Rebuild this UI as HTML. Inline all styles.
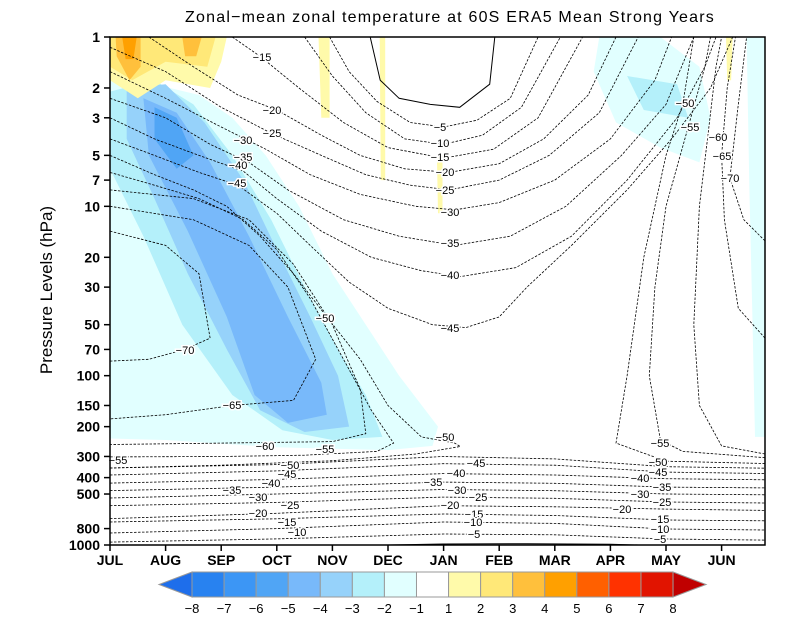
<!DOCTYPE html>
<html><head><meta charset="utf-8"><style>
html,body{margin:0;padding:0;background:#fff;}
svg{display:block;font-family:"Liberation Sans",sans-serif;}
</style></head><body>
<svg id="chart" width="800" height="618" viewBox="0 0 800 618" xmlns="http://www.w3.org/2000/svg">
<text x="450" y="22" font-size="16" text-anchor="middle" letter-spacing="1.2">Zonal−mean zonal temperature at 60S ERA5 Mean Strong Years</text>
<text transform="translate(52,290) rotate(-90)" font-size="17" text-anchor="middle">Pressure Levels (hPa)</text>
<g id="shade"></g>
<g id="contours"></g>
<g id="axes"></g>
<g id="cbar"></g>
</svg>
<script>
// ---- data ----
const monthLabels = ["JUL","AUG","SEP","OCT","NOV","DEC","JAN","FEB","MAR","APR","MAY","JUN"];
const pressureTicks = [1,2,3,5,7,10,20,30,50,70,100,150,200,300,400,500,800,1000];
const cbarLevels = [-8,-7,-6,-5,-4,-3,-2,-1,1,2,3,4,5,6,7,8];
const cbarColors = ["#2882f0","#3c96f5","#50a5f5","#78b9fa","#96d2fa","#b4f0fa","#e1ffff","#ffffff","#fffaaa","#ffe878","#ffc03c","#ffa000","#ff6000","#ff3200","#e11400"];
// shaded anomaly regions: level + polygon in [month, hPa]
const shadeLevels = [-1.5,-1.5,-1.5,-2.5,-3.5,-4.5,-5.5,-2.5,1.5,1.5,1.5,1.5,1.5,2.5,3.5,3.5,4.5];
const shadePolys = [
 [[0,1.7],[0.8,1.9],[1.6,2.2],[2.2,3],[2.8,5],[3.4,10],[4,25],[4.6,50],[5.2,100],[5.9,200],[5.8,260],[5,275],[3,265],[1,240],[0,235]],
 [[8.8,1],[9.9,1],[10.6,1.5],[10.8,3],[10.6,5.5],[9.9,4.5],[9.1,3.2],[8.7,1.6]],
 [[11.45,1],[11.78,1],[11.78,230],[11.6,230],[11.55,40],[11.5,8]],
 [[0,2.1],[0.8,1.8],[1.5,2.5],[2.2,5],[2.9,12],[3.5,30],[4.1,70],[4.6,130],[4.9,230],[4.0,240],[3.1,210],[2.2,130],[1.3,50],[0.6,15],[0,6]],
 [[0.3,2],[1,1.9],[1.7,3.2],[2.4,7],[3,18],[3.6,45],[4.1,100],[4.3,200],[3.5,215],[2.7,160],[2.1,70],[1.4,25],[0.8,9],[0.3,4]],
 [[0.6,2.3],[1.2,2.8],[1.8,5.5],[2.5,15],[3.2,45],[3.8,110],[3.9,170],[3.2,190],[2.6,130],[2.1,45],[1.4,14],[0.7,5]],
 [[0.8,2.6],[1.2,3],[1.5,5],[1.2,6],[0.8,4]],
 [[9.3,1.7],[10.2,1.9],[10.4,3],[9.6,2.7]],
 [[0,1],[2.1,1],[2.0,1.4],[1.8,2.0],[1,1.8],[0.5,2.3],[0,1.8]],
 [[3.75,1],[3.95,1],[3.95,3],[3.8,3]],
 [[4.85,1],[4.95,1],[4.95,7],[4.87,7]],
 [[5.88,5],[5.98,5],[5.98,11],[5.9,11]],
 [[11.08,1],[11.2,1],[11.17,1.8],[11.1,1.8]],
 [[0,1],[1.9,1],[1.75,1.5],[1,1.4],[0.4,1.8],[0,1.5]],
 [[0.1,1],[0.55,1],[0.55,1.5],[0.35,1.8],[0.12,1.3]],
 [[1.3,1],[1.65,1],[1.55,1.3],[1.35,1.3]],
 [[0.22,1],[0.48,1],[0.42,1.35],[0.28,1.35]]
];
// temperature contours: level and points [month, hPa] (low-level lines give hPa at lowMonths)
const contourLevels = [0,-5,-10,-15,-20,-25,-30,-35,-40,-45,-50,-55,-60,-65,-70,-50,-55,-60,-65,-70,
  -5,-10,-15,-20,-25,-30,-35,-40,-45,-50,0];
const lowMonths = [0,3,6,8,10,11.78];
const contourLines = [
 [[4.68,1],[4.86,1.8],[5.2,2.3],[5.76,2.5],[6.29,2.6],[6.83,1.9],[6.92,1]],
 [[3.95,1],[4.3,1.6],[4.8,2.4],[5.4,3.2],[6,3.4],[6.6,3.1],[7.2,2.3],[7.7,1]],
 [[3.5,1],[4,1.7],[4.6,2.8],[5.3,4],[6,4.3],[6.7,3.8],[7.4,2.6],[8.1,1]],
 [[2.2,1],[2.7,1.3],[3.4,2],[4.2,3.2],[5,4.5],[6,5.2],[6.9,4.6],[7.7,3],[8.5,1]],
 [[0.7,1],[1.5,1.5],[2.3,2.2],[3,2.7],[3.8,3.8],[4.5,5],[5.3,6],[6.1,6.3],[7,5.6],[7.8,4],[8.6,2.2],[9.1,1]],
 [[0,1.15],[1,1.6],[2,2.6],[2.9,3.7],[3.8,5],[4.6,6.5],[5.4,7.5],[6.1,8],[7,7],[7.9,5],[8.8,2.8],[9.5,1]],
 [[0,1.6],[1,2.3],[2,3.4],[2.8,4.6],[3.6,6.5],[4.5,8.5],[5.5,10],[6.2,10.5],[7,9.5],[8,7],[9,4],[9.8,1.8],[10.1,1]],
 [[0,2.3],[1,3],[1.8,4.3],[2.5,5.5],[3.2,8],[4.2,12],[5.2,15],[6.2,17],[7.2,15],[8.2,10],[9.2,5],[10,2.5],[10.5,1]],
 [[0,3],[0.8,4],[1.6,5],[2.4,6.2],[3,9],[3.8,14],[4.7,20],[5.6,24],[6.3,26],[7.3,23],[8.3,15],[9.3,7],[10.2,3],[10.7,1.5],[10.9,1]],
 [[0,4],[0.8,5],[1.6,6.3],[2.3,7.5],[3,11],[3.6,17],[4.3,28],[5,40],[5.8,50],[6.4,52],[7,45],[7.5,30],[8.3,17],[9.3,8],[10.1,4],[10.8,2],[11.2,1]],
 [[0,5],[0.8,6.5],[1.5,8],[2.1,10],[2.7,15],[3.3,25],[3.9,45],[4.5,80],[5,150],[5.6,230],[6.2,250],[6.3,262],[5.5,290],[4,318],[2,338],[0,351]],
 [[0,6.3],[0.8,7.5],[1.6,9],[2.4,12],[3,18],[3.6,35],[4.2,80],[4.7,160],[5.1,250],[4.8,280],[3.5,295],[2,300],[0,302]],
 [[0,8],[1.5,9],[2.5,12],[3.3,22],[4,50],[4.5,120],[4.6,220],[4,245],[2,250],[0,255]],
 [[0,10],[1.5,12],[2.5,17],[3.2,30],[3.7,80],[3.3,140],[2.2,150],[1,170],[0,180]],
 [[0,14],[1,17],[1.6,25],[1.8,60],[1.35,70],[0.7,80],[0,82]],
 [[11.78,330],[10,320],[9.1,250],[9.3,100],[9.6,20],[10,5],[10.3,2.5],[10.5,1]],
 [[11.78,305],[10.3,280],[9.9,240],[9.7,100],[9.8,30],[10,10],[10.4,3.4],[10.7,1.5],[10.8,1]],
 [[11.78,290],[11,260],[10.6,150],[10.5,50],[10.6,10],[10.75,3.9],[10.9,1.5],[11,1]],
 [[11.78,60],[11.3,40],[11.05,12],[11,5],[11.1,2],[11.25,1]],
 [[11.78,16],[11.4,12],[11.15,6.8],[11.3,2.5],[11.45,1]],
 [961,920,861,870,922,935],[850,800,731,745,805,815],[731,700,656,670,712,720],
 [698,650,586,595,614,625],[586,560,521,530,557,565],[528,500,470,478,500,505],
 [477,455,425,432,455,460],[431,410,379,386,406,412],[386,365,331,338,371,378],
 [351,335,300,310,345,352],
 [[5,1000],[6,986],[7.5,983],[9,990],[9.5,1000]]
];
const labelLevels = [-15,-20,-25,-30,-35,-40,-45,-5,-10,-15,-20,-25,-30,-35,-40,-45,-50,-70,-65,-60,-55,-50,-50,-55,-60,-65,-70,-55,
 -55,-50,-45,-40,-35,-30,-25,-20,-15,-10,-45,-40,-35,-30,-25,-20,-15,-10,-5,-50,-45,-40,-35,-30,-25,-20,-15,-10,-5];
// label anchor locations (annotation layout, pixels)
const labelAt = [[262,57],[272,110],[272,133],[243,140],[243,157],[238,165],[237,183],[440,127],[440,143],[440,157],[445,172],[445,190],[450,212],[450,243],[450,275],[450,328],[325,318],[185,350],[232,405],[265,446],[325,449],[445,437],[685,103],[690,127],[718,137],[722,156],[730,178],[660,443],
 [118,460],[290,465],[287,474],[271,483],[232,490],[258,497],[290,505],[258,513],[287,522],[297,532],[476,463],[456,473],[433,482],[457,490],[478,497],[450,505],[474,514],[473,522],[474,534],[658,462],[658,472],[640,478],[662,487],[640,494],[662,502],[622,509],[660,519],[660,529],[660,539]];

// ---- axes functions ----
const X0=110, X1=765, Y0=37, Y1=545, MW=55.6;
const xs = m => X0 + m*MW;
const ys = p => Y0 + (Y1-Y0)*Math.log10(p)/3;
const NS="http://www.w3.org/2000/svg";
function mk(tag, attrs, parent){const e=document.createElementNS(NS,tag);for(const k in attrs)e.setAttribute(k,attrs[k]);parent.appendChild(e);return e;}
function colorFor(v){ if(v>=-1&&v<=1) return "#ffffff"; let i=cbarLevels.findIndex(l=>l>v); if(i<0) return "#e11400"; return cbarColors[Math.max(0,i-1)]; }

const shade=document.getElementById('shade');
const cp=mk('clipPath',{id:'clip'},shade);
mk('rect',{x:X0,y:Y0,width:X1-X0,height:Y1-Y0},cp);
shadePolys.forEach((poly,i)=>{
  const e=mk('polygon',{points:poly.map(q=>xs(q[0]).toFixed(1)+','+ys(q[1]).toFixed(1)).join(' '),fill:colorFor(shadeLevels[i]),'clip-path':'url(#clip)'},shade);
  
  
});
const cg=document.getElementById('contours');
contourLines.forEach((ln,i)=>{
  const pts = (typeof ln[0]==='number') ? ln.map((p,j)=>[lowMonths[j],p]) : ln;
  const lvl=contourLevels[i];
  const e=mk('polyline',{points:pts.map(q=>xs(q[0]).toFixed(1)+','+ys(q[1]).toFixed(1)).join(' '),fill:'none',stroke:'#000','stroke-width':lvl<0?0.8:1,'stroke-dasharray':lvl<0?'2.5,1.5':'none','clip-path':'url(#clip)'},cg);
  
  
});
labelAt.forEach((q,i)=>{
  const t=mk('text',{x:q[0],y:q[1]+4,'font-size':11,'text-anchor':'middle',fill:'#000',stroke:'#fff','stroke-width':3,'paint-order':'stroke'},cg);
  t.textContent='−'+Math.abs(labelLevels[i]);
  
  
});
const ax=document.getElementById('axes');
const fr=mk('rect',{x:X0,y:Y0,width:X1-X0,height:Y1-Y0,fill:'none',stroke:'#000','stroke-width':1.5},ax);

pressureTicks.forEach(p=>{
  const y=ys(p);
  mk('line',{x1:X0-6,x2:X0,y1:y,y2:y,stroke:'#000','stroke-width':1.5},ax);
  const t=mk('text',{x:X0-10,y:y+5,'font-size':14,'font-weight':'bold','text-anchor':'end'},ax);
  t.textContent=p;
  
  
});
monthLabels.forEach((m,i)=>{
  const x=xs(i);
  mk('line',{x1:x,x2:x,y1:Y1,y2:Y1+6,stroke:'#000','stroke-width':1.5},ax);
  const t=mk('text',{x:x,y:565,'font-size':14,'font-weight':'bold','text-anchor':'middle'},ax);
  t.textContent=m;
  
  
});
const cb=document.getElementById('cbar');
const CB0=192, CBW=32.07, CBY=572, CBH=25;
const lt=mk('polygon',{points:`${CB0},${CBY} ${CB0},${CBY+CBH} 159,${CBY+CBH/2}`,fill:'#1e6eeb',stroke:'#999'},cb);

cbarColors.forEach((c,i)=>{
  const r=mk('rect',{x:CB0+i*CBW,y:CBY,width:CBW,height:CBH,fill:c,stroke:'#999','stroke-width':1},cb);
  
  
});
const xe=CB0+cbarColors.length*CBW;
const rt=mk('polygon',{points:`${xe},${CBY} ${xe},${CBY+CBH} ${xe+33},${CBY+CBH/2}`,fill:'#c00000',stroke:'#999'},cb);

cbarLevels.forEach((l,i)=>{
  const t=mk('text',{x:CB0+i*CBW,y:613,'font-size':13,'text-anchor':'middle'},cb);
  t.textContent=l<0?'−'+Math.abs(l):String(l);
  
  
});
</script>
</body></html>
